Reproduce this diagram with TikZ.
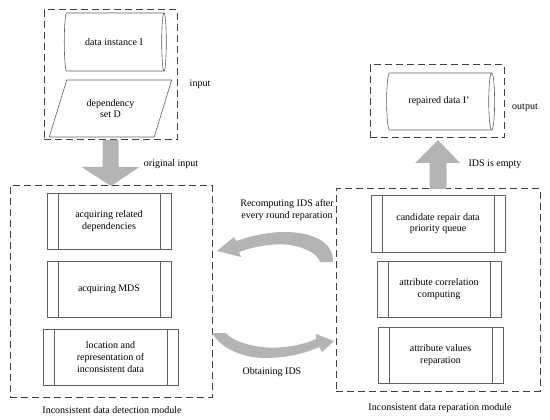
\documentclass[tikz,border=0pt]{standalone}
\usepackage{fontspec}
\setmainfont{Liberation Serif}
\usetikzlibrary{calc,shapes.geometric}

\definecolor{arrgray}{RGB}{180,180,180}
\definecolor{linegray}{RGB}{95,95,95}

\tikzset{
    dashbox/.style={draw=black!75, line width=1pt, dash pattern=on 7pt off 4pt},
    proc/.style={draw=linegray, line width=0.6pt, align=center, inner sep=0pt,
        path picture={
            \draw[linegray, line width=0.6pt]
                ([xshift=11pt]path picture bounding box.north west) --
                ([xshift=11pt]path picture bounding box.south west);
            \draw[linegray, line width=0.6pt]
                ([xshift=-11pt]path picture bounding box.north east) --
                ([xshift=-11pt]path picture bounding box.south east);
        }},
    store/.style={cylinder, draw=linegray, line width=0.6pt, shape aspect=0.65, inner sep=0pt}
}

\begin{document}
\begin{tikzpicture}[x=1pt, y=-1pt, outer sep=0pt,
    every node/.style={font=\fontsize{10pt}{11.7pt}\selectfont}]
    \useasboundingbox (0,0) rectangle (550,420);

    % input
    \node[dashbox, minimum width=133pt, minimum height=130pt] (in_box) at (110.5,75) {};
    \node[store, minimum height=102pt, minimum width=58pt] (data_inst) at (114,42) {data instance I};
    \node[trapezium, trapezium stretches=true, trapezium left angle=63, trapezium right angle=117,
          draw=linegray, line width=0.6pt, minimum width=123pt, minimum height=57pt, align=center,
          inner sep=0pt] (dep_set) at (110.5,108.5) {dependency\\set D};
    \node (in_lab) at (200,84) {input};

    % detection module
    \node[dashbox, minimum width=202pt, minimum height=211pt] (det_box) at (111,291.5) {};
    \node[proc, minimum width=124pt, minimum height=56pt] (acq_dep) at (109,221) {acquiring related\\dependencies};
    \node[proc, minimum width=124pt, minimum height=56pt] (acq_mds) at (109,289) {acquiring MDS};
    \node[proc, minimum width=135pt, minimum height=56pt] (loc_rep) at (110.5,357) {location and\\representation of\\inconsistent data};
    \node (det_cap) at (112,410) {Inconsistent data detection module};

    % original input arrow
    \fill[arrgray] ($(in_box.south)+(-8,0)$) -- ($(in_box.south)+(8,0)$) -- ($(in_box.south)+(8,27)$)
        -- ($(in_box.south)+(29,27)$) -- (det_box.north) -- ($(in_box.south)+(-29,27)$)
        -- ($(in_box.south)+(-8,27)$) -- cycle;
    \node (orig_lab) at (171,164) {original input};

    % output
    \node[dashbox, minimum width=134pt, minimum height=73pt] (out_box) at (437,101.5) {};
    \node[store, minimum height=108pt, minimum width=57pt] (rep_data) at (439,101.5) {repaired data I’};
    \node (out_lab) at (525,108) {output};

    % reparation module
    \node[dashbox, minimum width=204pt, minimum height=202pt] (rep_box) at (438,290) {};
    \node[proc, minimum width=134pt, minimum height=57pt] (cand_q) at (438,223.5) {candidate repair data\\priority queue};
    \node[proc, minimum width=124pt, minimum height=56pt] (attr_corr) at (439,289) {attribute correlation\\computing};
    \node[proc, minimum width=125pt, minimum height=56pt] (attr_rep) at (440.5,355) {attribute values\\reparation};
    \node (rep_cap) at (440,408) {Inconsistent data reparation module};

    % IDS is empty arrow
    \fill[arrgray] ($(rep_box.north)+(-8.5,0)$) -- ($(rep_box.north)+(8.5,0)$) -- ($(rep_box.north)+(8.5,-26)$)
        -- ($(rep_box.north)+(22,-26)$) -- ($(out_box.south)+(1,2)$) -- ($(rep_box.north)+(-23,-26)$)
        -- ($(rep_box.north)+(-8.5,-26)$) -- cycle;
    \node (empty_lab) at (495,164) {IDS is empty};

    % loop between modules
    \node[align=center] (recomp_lab) at (287,210) {Recomputing IDS after\\every round reparation};
    \fill[arrgray] (333,262) .. controls (334,242) and (312,232) .. (285,232)
        .. controls (265,232) and (248,237) .. (236,241)
        -- (234,237) -- (217,251) -- (241,257) -- (239,252)
        .. controls (255,246) and (275,243) .. (290,245)
        .. controls (308,248) and (318,255) .. (320,262) -- cycle;
    \fill[arrgray] (212,333) .. controls (222,350) and (245,358) .. (265,358)
        .. controls (290,358) and (308,352) .. (319,347)
        -- (322,352) -- (334,341) -- (316,334) -- (316,339)
        .. controls (300,346) and (280,349) .. (262,347)
        .. controls (245,345) and (232,340) .. (226,333) -- cycle;
    \node (obtain_lab) at (272,372) {Obtaining IDS};
\end{tikzpicture}
\end{document}
